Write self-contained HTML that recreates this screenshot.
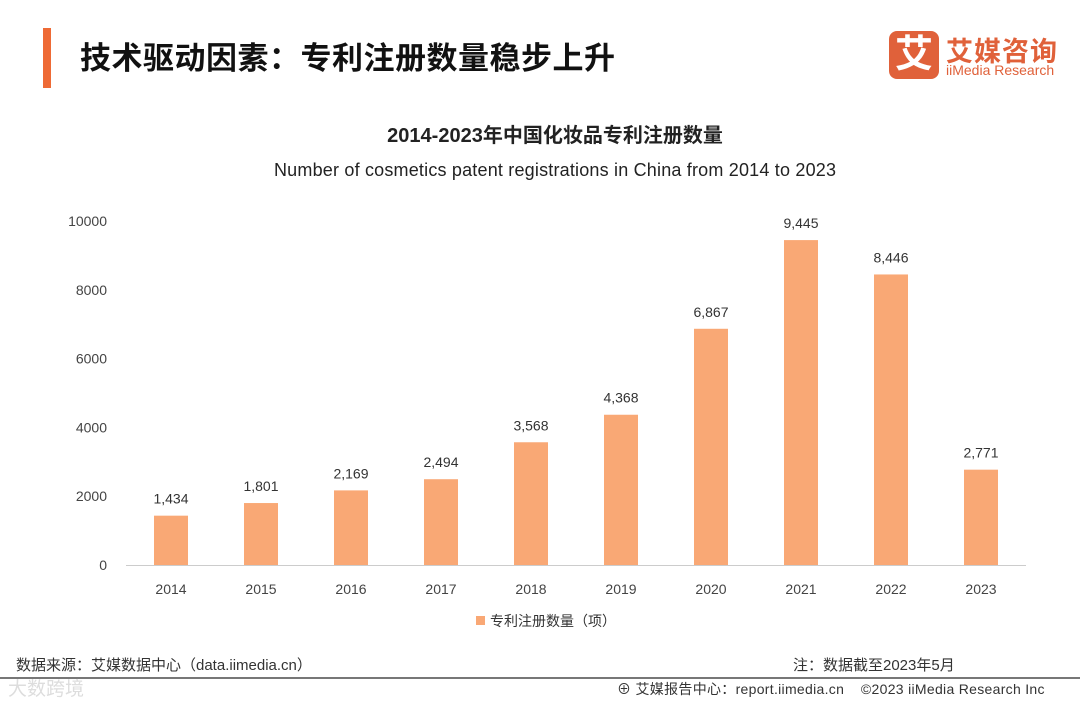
<!DOCTYPE html>
<html><head><meta charset="utf-8"><style>
body{margin:0;width:1080px;height:702px;background:#fff;position:relative;overflow:hidden;font-family:"Liberation Sans","Noto Sans CJK SC",sans-serif}
.a{position:absolute;white-space:nowrap}
</style></head><body>
<div class="a" style="left:43px;top:28px;width:8px;height:60px;background:#ee6a35"></div>
<div class="a" style="left:80px;top:33px;font-size:31px;font-weight:bold;color:#111;letter-spacing:0.5px">技术驱动因素：专利注册数量稳步上升</div>
<div class="a" style="left:889px;top:31px;width:50px;height:48px;background:#e0613a;border-radius:8px;color:#fff;font-size:38px;font-weight:bold;text-align:center;line-height:48px">艾</div>
<div class="a" style="left:946px;top:30px;font-size:27px;font-weight:bold;color:#e0613a;letter-spacing:1px">艾媒咨询</div>
<div class="a" style="left:946px;top:62px;font-size:14px;color:#e0613a">iiMedia Research</div>
<svg class="a" style="left:0;top:0" width="1080" height="702" id="chart">
<text x="555" y="142" text-anchor="middle" font-size="20" font-weight="bold" fill="#222">2014-2023年中国化妆品专利注册数量</text>
<text x="555" y="176" text-anchor="middle" font-size="18" fill="#222" textLength="562">Number of cosmetics patent registrations in China from 2014 to 2023</text>
<g id="g"></g>
<rect x="476" y="616" width="9" height="9" fill="#f9a875"/>
<text x="490" y="626" font-size="14" fill="#333">专利注册数量（项）</text>
</svg>
<div class="a" style="left:16px;top:654px;font-size:15px;color:#333">数据来源：艾媒数据中心（data.iimedia.cn）</div>
<div class="a" style="left:793px;top:654px;font-size:15px;color:#333">注：数据截至2023年5月</div>
<div class="a" style="left:0;top:677px;width:1080px;height:2px;background:#777"></div>
<div class="a" style="left:8px;top:674px;font-size:19px;color:#ddd">大数跨境</div>
<div class="a" style="left:617px;top:679px;font-size:14px;color:#333;letter-spacing:0.3px">⊕ 艾媒报告中心：report.iimedia.cn &nbsp;&nbsp;&nbsp;©2023 iiMedia Research Inc</div>
<script>
const categories=["2014","2015","2016","2017","2018","2019","2020","2021","2022","2023"];
const values=[1434,1801,2169,2494,3568,4368,6867,9445,8446,2771];
const yTicks=[0,2000,4000,6000,8000,10000];
const g=document.getElementById('g');const NS='http://www.w3.org/2000/svg';
const y=v=>565-v*0.0344;const x=i=>126+90*i+45;
function mk(t,a){const e=document.createElementNS(NS,t);for(const k in a)e.setAttribute(k,a[k]);g.appendChild(e);return e;}
yTicks.forEach(t=>{const e=mk('text',{x:107,y:y(t)+5,'text-anchor':'end','font-size':14,fill:'#444'});e.textContent=t;

});
const ax=mk('line',{x1:126,x2:1026,y1:565.5,y2:565.5,stroke:'#ccc'});


categories.forEach((c,i)=>{
const b=mk('rect',{x:x(i)-17,y:y(values[i]),width:34,height:565-y(values[i]),fill:'#f9a875'});


const l=mk('text',{x:x(i),y:y(values[i])-12,'text-anchor':'middle','font-size':14,fill:'#333'});l.textContent=values[i].toLocaleString('en-US');


const t=mk('text',{x:x(i),y:594,'text-anchor':'middle','font-size':14,fill:'#444'});t.textContent=c;


});
</script>
</body></html>
